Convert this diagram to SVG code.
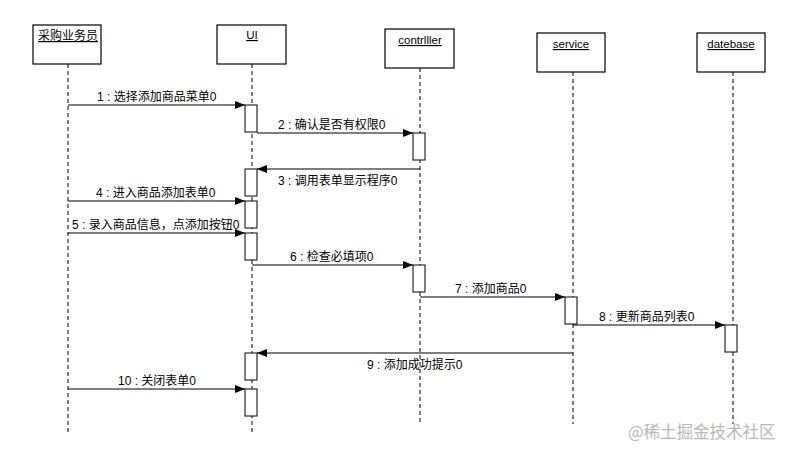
<svg xmlns="http://www.w3.org/2000/svg" width="792" height="457" viewBox="0 0 792 457">
<defs>
<style>
.box{fill:#fff;stroke:#000;stroke-width:1.2}
.life{stroke:#000;stroke-width:1;stroke-dasharray:4 3;fill:none}
.act{fill:#fff;stroke:#000;stroke-width:1}
.msg{stroke:#000;stroke-width:1.2;fill:none}
.t{font-family:"Liberation Sans","Noto Sans CJK SC",sans-serif;font-size:12px;fill:#000}
.n{font-family:"Liberation Sans","Noto Sans CJK SC",sans-serif;font-size:11.5px;fill:#000;text-decoration:underline;text-anchor:middle}
.wm{font-family:"Noto Sans CJK SC",sans-serif;font-size:16.5px;fill:#b8b8b8}
</style>
<marker id="ah" viewBox="0 0 10 10" refX="10" refY="5" markerWidth="10" markerHeight="10" markerUnits="userSpaceOnUse" orient="auto">
<path d="M0,1 L10,5 L0,9 Z" fill="#000"/>
</marker>
</defs>
<rect width="792" height="457" fill="#fff"/>

<g id="n-actor">
<line class="life" x1="68" y1="64" x2="68" y2="433"/>
<rect class="box" x="33" y="25" width="68" height="39"/>
<text class="n" x="68" y="40" style="font-size:12px">采购业务员</text>
</g>
<g id="n-ui">
<line class="life" x1="252" y1="64" x2="252" y2="433"/>
<rect class="box" x="217" y="25" width="69" height="39"/>
<text class="n" x="252" y="39">UI</text>
</g>
<g id="n-controller">
<line class="life" x1="420" y1="68" x2="420" y2="425"/>
<rect class="box" x="385" y="29" width="69" height="39"/>
<text class="n" x="420" y="44">contrlller</text>
</g>
<g id="n-service">
<line class="life" x1="573" y1="72" x2="573" y2="424"/>
<rect class="box" x="537" y="33" width="68" height="39"/>
<text class="n" x="571" y="48">service</text>
</g>
<g id="n-datebase">
<line class="life" x1="733" y1="72" x2="733" y2="424"/>
<rect class="box" x="697" y="33" width="68" height="39"/>
<text class="n" x="731" y="48">datebase</text>
</g>

<g id="activations">
<rect class="act" x="245" y="105" width="12" height="27"/>
<rect class="act" x="413" y="133" width="12" height="27"/>
<rect class="act" x="245" y="169" width="12" height="27"/>
<rect class="act" x="245" y="201" width="12" height="27"/>
<rect class="act" x="245" y="233" width="12" height="27"/>
<rect class="act" x="413" y="265" width="12" height="27"/>
<rect class="act" x="565" y="297" width="12" height="27"/>
<rect class="act" x="725" y="325" width="12" height="27"/>
<rect class="act" x="245" y="353" width="12" height="27"/>
<rect class="act" x="245" y="389" width="12" height="27"/>
</g>

<g id="connectors">
<line class="msg" x1="68" y1="105" x2="245" y2="105" marker-end="url(#ah)"/>
<line class="msg" x1="257" y1="133" x2="413" y2="133" marker-end="url(#ah)"/>
<line class="msg" x1="420" y1="169" x2="257" y2="169" marker-end="url(#ah)"/>
<line class="msg" x1="68" y1="201" x2="245" y2="201" marker-end="url(#ah)"/>
<line class="msg" x1="68" y1="233" x2="245" y2="233" marker-end="url(#ah)"/>
<line class="msg" x1="252" y1="265" x2="413" y2="265" marker-end="url(#ah)"/>
<line class="msg" x1="420" y1="297" x2="565" y2="297" marker-end="url(#ah)"/>
<line class="msg" x1="573" y1="325" x2="725" y2="325" marker-end="url(#ah)"/>
<line class="msg" x1="573" y1="353" x2="257" y2="353" marker-end="url(#ah)"/>
<line class="msg" x1="68" y1="389" x2="245" y2="389" marker-end="url(#ah)"/>
</g>

<g id="labels">
<text class="t" x="97" y="101">1 : 选择添加商品菜单0</text>
<text class="t" x="278" y="129">2 : 确认是否有权限0</text>
<text class="t" x="278" y="185">3 : 调用表单显示程序0</text>
<text class="t" x="96" y="197">4 : 进入商品添加表单0</text>
<text class="t" x="72" y="229">5 : 录入商品信息，点添加按钮0</text>
<text class="t" x="290" y="261">6 : 检查必填项0</text>
<text class="t" x="455" y="293">7 : 添加商品0</text>
<text class="t" x="599" y="321">8 : 更新商品列表0</text>
<text class="t" x="367" y="369">9 : 添加成功提示0</text>
<text class="t" x="118" y="385">10 : 关闭表单0</text>
</g>

<text class="wm" x="628" y="438">@稀土掘金技术社区</text>
</svg>
